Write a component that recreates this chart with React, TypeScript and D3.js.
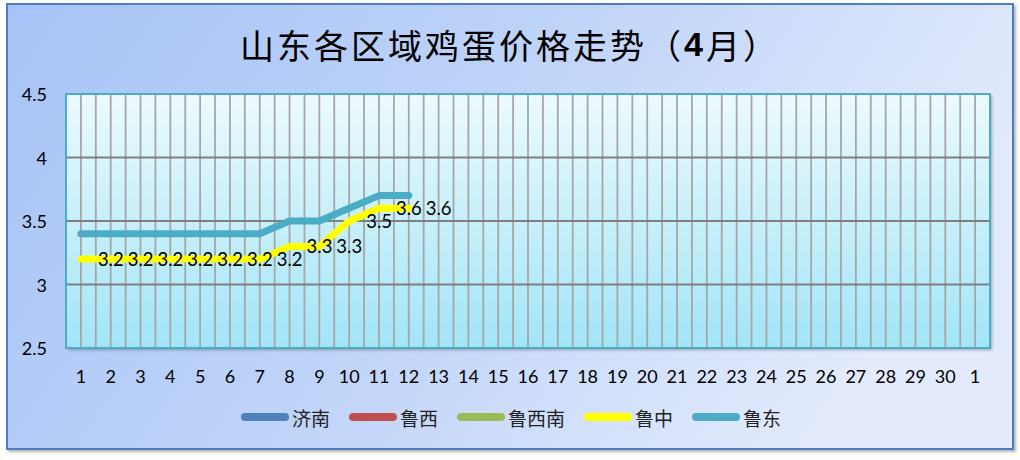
import React from "react";
import * as d3 from "d3";

const categories = ["1","2","3","4","5","6","7","8","9","10","11","12","13","14","15","16","17","18","19","20","21","22","23","24","25","26","27","28","29","30","1"];
const seriesNames = ["济南", "鲁西", "鲁西南", "鲁中", "鲁东"];
const seriesColors = ["#4F81BD", "#C0504D", "#9BBB59", "#FFFF00", "#4BACC6"];
const jinan: number[] = [];
const luxi: number[] = [];
const luxinan: number[] = [];
const luzhong = [3.2, 3.2, 3.2, 3.2, 3.2, 3.2, 3.2, 3.3, 3.3, 3.5, 3.6, 3.6];
const ludong = [3.4, 3.4, 3.4, 3.4, 3.4, 3.4, 3.4, 3.5, 3.5, 3.6, 3.7, 3.7];
const yTicks = [2.5, 3, 3.5, 4, 4.5];
const title = "山东各区域鸡蛋价格走势（";

const W = 1020, H = 460;
const plot = { left: 66, right: 990, top: 94, bottom: 348 };

export default function App() {
  const x = d3.scaleBand<number>().domain(categories.map((_, i) => i)).range([plot.left, plot.right]);
  const bw = x.bandwidth();
  const cx = (i: number) => (x(i) as number) + bw / 2;
  const y = d3.scaleLinear().domain([2.5, 4.5]).range([plot.bottom, plot.top]);
  const line = d3.line<number>().x((_, i) => cx(i)).y((d) => y(d));
  const allSeries = [jinan, luxi, luxinan, luzhong, ludong];

  const vGrid: number[] = [];
  for (let k = 1; k < categories.length * 2; k++) vGrid.push(plot.left + (k * bw) / 2);

  // legend layout
  const legFont = 19;
  let lx = 242;
  const legendItems = seriesNames.map((n, i) => {
    const item = { x: lx, name: n, color: seriesColors[i] };
    lx += 46 + 4 + n.length * legFont + 20;
    return item;
  });

  const numFont = "Lato, 'Open Sans', sans-serif";
  const cjkFont = "'Noto Sans CJK SC', sans-serif";

  return (
    <div style={{ position: "absolute", left: 0, top: 0, width: W, height: H }}>
      <svg width={W} height={H} style={{ display: "block" }}>
        <defs>
          <linearGradient id="bg" x1="0" y1="0" x2="1" y2="0.3">
            <stop offset="0" stopColor="#A7C3F6" />
            <stop offset="0.5" stopColor="#BED3F8" />
            <stop offset="1" stopColor="#E2EAFC" />
          </linearGradient>
          <linearGradient id="pbg" x1="0" y1="0" x2="0" y2="1">
            <stop offset="0" stopColor="#ECFAFE" />
            <stop offset="1" stopColor="#A2E5F7" />
          </linearGradient>
          <filter id="sh" x="-5%" y="-5%" width="110%" height="115%">
            <feDropShadow dx="2" dy="2" stdDeviation="1.5" floodColor="#000" floodOpacity="0.3" />
          </filter>
        </defs>
        <rect x={7} y={4} width={1006} height={445} fill="url(#bg)" stroke="#4F7EBD" strokeWidth={2} filter="url(#sh)" />
        <text x={240} y={44} dominantBaseline="central" fontFamily={cjkFont} fontSize={34} letterSpacing={3} fill="#000">
          {title}
          <tspan fontWeight="bold" fontFamily="'Liberation Sans', Arial, sans-serif">4</tspan>
          <tspan>月）</tspan>
        </text>
        <rect x={plot.left} y={plot.top} width={plot.right - plot.left} height={plot.bottom - plot.top} fill="url(#pbg)" filter="url(#sh)" />
        {vGrid.map((gx, i) => (
          <line key={"v" + i} x1={gx} x2={gx} y1={plot.top} y2={plot.bottom} stroke="#A6A6A6" strokeWidth={1.8} />
        ))}
        {yTicks.slice(1, -1).map((t) => (
          <line key={"h" + t} x1={plot.left} x2={plot.right} y1={y(t)} y2={y(t)} stroke="#7F7F7F" strokeWidth={1.8} />
        ))}
        <rect x={plot.left} y={plot.top} width={plot.right - plot.left} height={plot.bottom - plot.top} fill="none" stroke="#4BACC6" strokeWidth={2} />
        {yTicks.map((t) => (
          <text key={"yt" + t} x={47} y={y(t)} textAnchor="end" dominantBaseline="central" fontFamily={numFont} fontSize={18} fill="#000">
            {String(t)}
          </text>
        ))}
        {categories.map((c, i) => (
          <text key={"xt" + i} x={cx(i)} y={376} textAnchor="middle" dominantBaseline="central" fontFamily={numFont} fontSize={18} fill="#000">
            {c}
          </text>
        ))}
        {allSeries.map((s, si) =>
          s.length ? (
            <path key={"s" + si} d={line(s) || ""} fill="none" stroke={seriesColors[si]} strokeWidth={7} strokeLinecap="round" strokeLinejoin="round" />
          ) : null
        )}
        {luzhong.map((v, i) => (
          <text key={"lb" + i} x={cx(i) + 17} y={y(v)} dominantBaseline="central" fontFamily={numFont} fontSize={18.5} fill="#000">
            {String(v)}
          </text>
        ))}
        {legendItems.map((it, i) => (
          <g key={"lg" + i}>
            <line x1={it.x + 3} x2={it.x + 43} y1={417} y2={417} stroke={it.color} strokeWidth={8} strokeLinecap="round" />
            <text x={it.x + 50} y={417} dominantBaseline="central" fontFamily={cjkFont} fontSize={legFont} fill="#222">
              {it.name}
            </text>
          </g>
        ))}
      </svg>
    </div>
  );
}
